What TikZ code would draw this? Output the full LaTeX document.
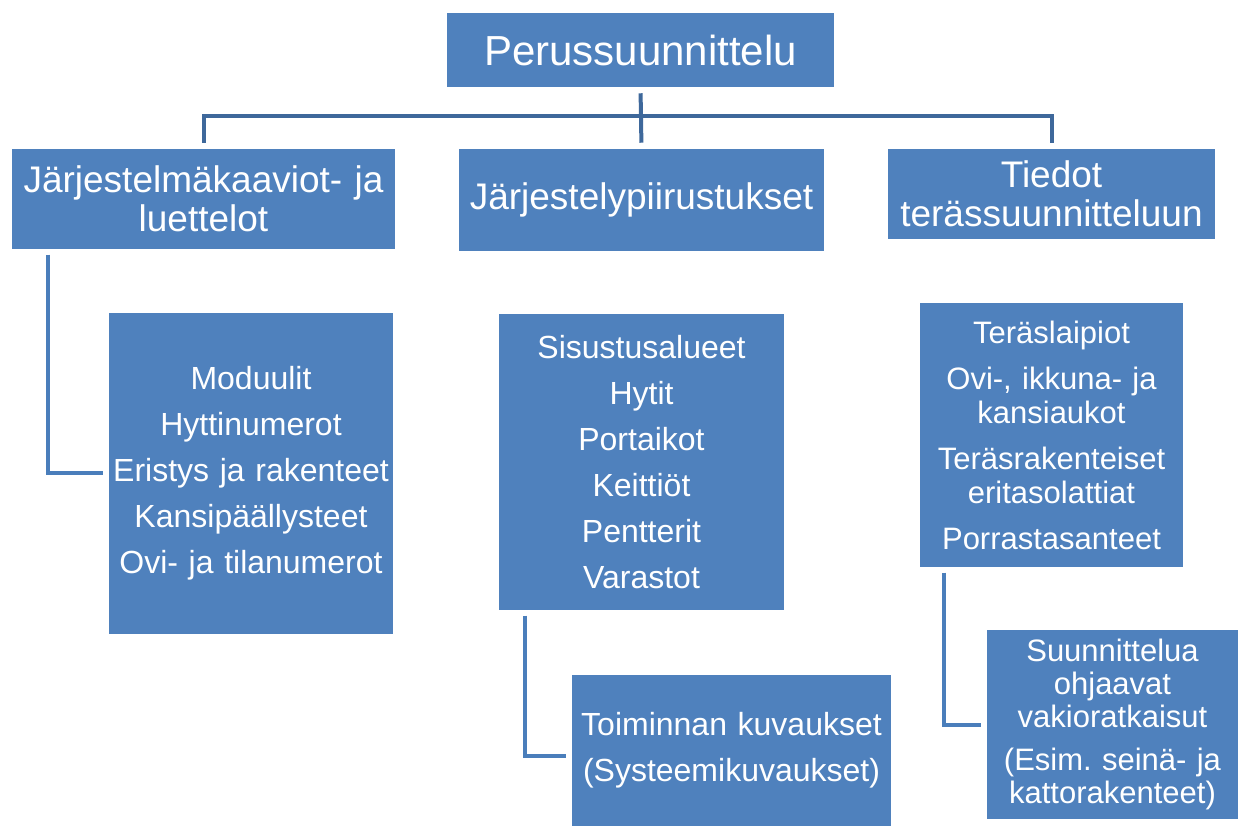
\documentclass[tikz,border=0pt]{standalone}
\usepackage{fontspec}
\setmainfont{Liberation Sans}
\definecolor{boxblue}{RGB}{79,129,189}
\definecolor{busblue}{RGB}{62,104,155}
\definecolor{lineblue}{RGB}{74,126,187}
\begin{document}
\begin{tikzpicture}[x=0.75pt, y=-0.75pt,
        box/.style={fill=boxblue, text=white, inner sep=0pt, align=center},
        headtext/.style={font=\fontsize{27.75pt}{29.25pt}\selectfont},
        itemtext/.style={font=\fontsize{24pt}{34.5pt}\selectfont},
        bus/.style={draw=busblue, line width=3pt},
        sub/.style={draw=lineblue, line width=3pt}]
        \useasboundingbox (0,0) rectangle (1240,827);

        % top level
        \node[box, text width=290.25pt, minimum height=55.5pt, font=\fontsize{31.5pt}{34pt}\selectfont] (top) at (640.5,50) {Perussuunnittelu};

        % second level
        \node[box, headtext, text width=287.25pt, minimum height=75pt] (sys) at (203.5,199) {Järjestelmäkaaviot- ja\\luettelot};
        \node[box, headtext, text width=273.75pt, minimum height=76.5pt] (jarj) at (641.5,200) {Järjestelypiirustukset};
        \node[box, headtext, text width=245.25pt, minimum height=67.5pt] (tiedot) at (1051.5,194) {Tiedot\\terässuunnitteluun};

        % third level
        \node[box, itemtext, text width=213pt, minimum height=240.75pt] (mod) at (251,473.5) {Moduulit\\Hyttinumerot\\Eristys ja rakenteet\\Kansipäällysteet\\Ovi- ja tilanumerot};
        \node[box, itemtext, text width=213.75pt, minimum height=222pt] (sis) at (641.5,462) {Sisustusalueet\\Hytit\\Portaikot\\Keittiöt\\Pentterit\\Varastot};
        \node[box, text width=197.25pt, minimum height=198pt, font=\fontsize{23.25pt}{25.5pt}\selectfont] (teras) at (1051.5,435) {Teräslaipiot\\[9pt]Ovi-, ikkuna- ja\\kansiaukot\\[9pt]Teräsrakenteiset\\eritasolattiat\\[9pt]Porrastasanteet};

        % fourth level
        \node[box, itemtext, text width=239.25pt, minimum height=113.25pt] (toim) at (731.5,750.5) {Toiminnan kuvaukset\\(Systeemikuvaukset)};
        \node[box, text width=188.25pt, minimum height=141.75pt, font=\fontsize{23.25pt}{24.75pt}\selectfont] (suun) at (1112.5,724.5) {Suunnittelua\\ohjaavat\\vakioratkaisut\\[7.5pt](Esim.\ seinä- ja\\kattorakenteet)};

        \coordinate (bus) at (640.5,116);
        \draw[bus, shorten <=4.5pt, shorten >=4.5pt] (top.south) -- (jarj.north);
        \draw[bus, shorten <=4.5pt, shorten >=4.5pt] (sys.north) |- (bus) -| (tiedot.north);

        \draw[sub] ([xshift=27pt, yshift=-4pt]sys.south west) |- ([xshift=-4.5pt]mod.west);
        \draw[sub] ([xshift=19.5pt, yshift=-4pt]sis.south west) |- ([xshift=-4.5pt, yshift=-4pt]toim.west);
        \draw[sub] ([xshift=18pt, yshift=-4pt]teras.south west) |- ([xshift=-4pt]suun.west);
\end{tikzpicture}
\end{document}
